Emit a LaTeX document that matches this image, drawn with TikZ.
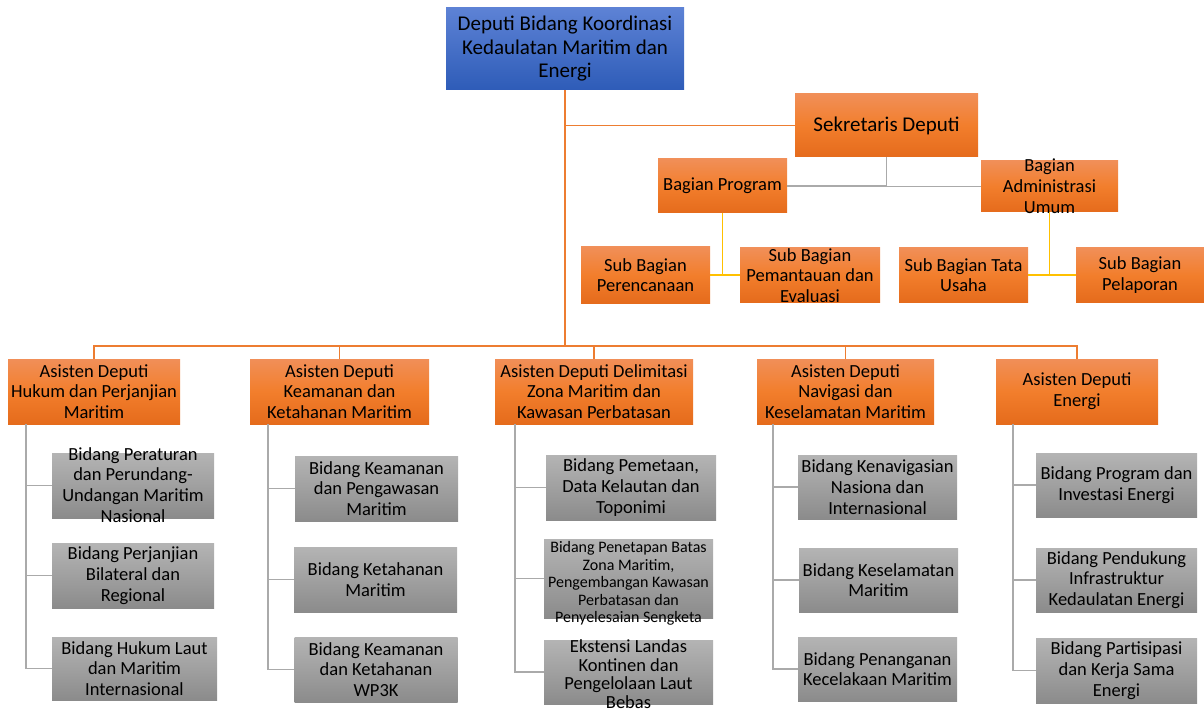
\documentclass[tikz,border=0pt]{standalone}
\usepackage{fontspec}
\setmainfont{Carlito}
\usepackage{tikz}
\usetikzlibrary{calc}
\definecolor{blTop}{RGB}{93,130,213}
\definecolor{blBot}{RGB}{46,92,184}
\definecolor{orTop}{RGB}{241,143,88}
\definecolor{orMid}{RGB}{242,126,44}
\definecolor{orBot}{RGB}{229,107,28}
\definecolor{grTop}{RGB}{180,180,180}
\definecolor{grMid}{RGB}{160,160,160}
\definecolor{grBot}{RGB}{139,139,139}
\definecolor{lnOr}{RGB}{237,125,49}
\definecolor{lnGr}{RGB}{170,170,170}
\definecolor{lnYe}{RGB}{255,192,0}
\newcommand{\ovr}[2][-6pt]{\smash{\raisebox{#1}{\begin{tabular}{@{}c@{}}#2\end{tabular}}}}
\tikzstyle{base}   = [rectangle, inner sep=0pt, align=center, text=black]
\tikzstyle{deputi} = [base, top color=blTop, bottom color=blBot, font=\fontsize{21}{23.5}\selectfont]
\tikzstyle{unit}   = [base, top color=orTop, bottom color=orBot, middle color=orMid, font=\fontsize{18.5}{20.7}\selectfont]
\tikzstyle{bidang} = [base, top color=grTop, bottom color=grBot, middle color=grMid, minimum width=162, minimum height=65, font=\fontsize{18.5}{20.7}\selectfont]
\tikzstyle{orline} = [draw=lnOr, line width=1.8pt]
\tikzstyle{grline} = [draw=lnGr, line width=1.8pt]
\tikzstyle{yeline} = [draw=lnYe, line width=1.8pt]
\begin{document}
\begin{tikzpicture}[x=1pt, y=-1pt]
    \useasboundingbox (0,0) rectangle (1204,711);

    \node (deputi) [deputi, minimum width=238, minimum height=82] at (565,49) {Deputi Bidang Koordinasi\\Kedaulatan Maritim dan\\Energi};
    \node (sekdep) [unit, minimum width=183, minimum height=63, font=\fontsize{21}{23.5}\selectfont] at (886.5,125.5) {Sekretaris Deputi};
    \node (bprog)  [unit, minimum width=129, minimum height=54] at (722.5,186) {Bagian Program};
    \node (badm)   [unit, minimum width=137, minimum height=51] at (1049.5,186.5) {\ovr{Bagian\\Administrasi\\Umum}};
    \node (sbren)  [unit, minimum width=129, minimum height=56] at (645.5,275) {Sub Bagian\\Perencanaan};
    \node (sbpem)  [unit, minimum width=140, minimum height=54] at (810,275) {\ovr[-7pt]{Sub Bagian\\Pemantauan dan\\Evaluasi}};
    \node (sbtu)   [unit, minimum width=129, minimum height=54] at (963.5,275) {Sub Bagian Tata\\Usaha};
    \node (sblap)  [unit, minimum width=128, minimum height=54] at (1140,275) {Sub Bagian\\Pelaporan};

    % asisten deputi
    \node (as1) [unit, minimum width=172, minimum height=65] at (94,391.5)   {Asisten Deputi\\Hukum dan Perjanjian\\Maritim};
    \node (as2) [unit, minimum width=179, minimum height=65] at (339.5,391.5) {Asisten Deputi\\Keamanan dan\\Ketahanan Maritim};
    \node (as3) [unit, minimum width=198, minimum height=65] at (594,391.5)  {Asisten Deputi Delimitasi\\Zona Maritim dan\\Kawasan Perbatasan};
    \node (as4) [unit, minimum width=177, minimum height=65] at (845.5,391.5) {Asisten Deputi\\Navigasi dan\\Keselamatan Maritim};
    \node (as5) [unit, minimum width=162, minimum height=65] at (1077,391.5) {Asisten Deputi\\Energi};

    % bidang
    \node (bd11) [bidang] at (133,485.5) {\ovr{Bidang Peraturan\\dan Perundang-\\Undangan Maritim\\Nasional}};
    \node (bd12) [bidang] at (133,575.5) {Bidang Perjanjian\\Bilateral dan\\Regional};
    \node (bd13) [bidang, minimum width=165, minimum height=63] at (134.5,668.5) {Bidang Hukum Laut\\dan Maritim\\Internasional};

    \node (bd21) [bidang, minimum width=163] at (376.5,488.5) {Bidang Keamanan\\dan Pengawasan\\Maritim};
    \node (bd22) [bidang, minimum width=163] at (375.5,579.5) {Bidang Ketahanan\\Maritim};
    \node (bd23) [bidang, minimum width=163] at (376,669.5)   {Bidang Keamanan\\dan Ketahanan\\WP3K};

    \node (bd31) [bidang, minimum width=170] at (631,487.5) {Bidang Pemetaan,\\Data Kelautan dan\\Toponimi};
    \node (bd32) [bidang, minimum width=169, minimum height=79, font=\fontsize{16}{17.5}\selectfont] at (628.5,578.5) {\ovr[-10pt]{Bidang Penetapan Batas\\Zona Maritim,\\Pengembangan Kawasan\\Perbatasan dan\\Penyelesaian Sengketa}};
    \node (bd33) [bidang, minimum width=169, minimum height=64, font=\fontsize{18.5}{18.6}\selectfont] at (628.5,672) {\ovr[-9pt]{Ekstensi Landas\\Kontinen dan\\Pengelolaan Laut\\Bebas}};

    \node (bd41) [bidang, minimum width=159, minimum height=64] at (877.5,487) {Bidang Kenavigasian\\Nasiona dan\\Internasional};
    \node (bd42) [bidang, minimum width=159, minimum height=64] at (878.5,580) {Bidang Keselamatan\\Maritim};
    \node (bd43) [bidang, minimum width=159, minimum height=64] at (877.5,669) {Bidang Penanganan\\Kecelakaan Maritim};

    \node (bd51) [bidang, minimum width=161, minimum height=64] at (1116.5,485)   {Bidang Program dan\\Investasi Energi};
    \node (bd52) [bidang, minimum width=161, minimum height=64] at (1116.5,580)   {Bidang Pendukung\\Infrastruktur\\Kedaulatan Energi};
    \node (bd53) [bidang, minimum width=161, minimum height=65] at (1116.5,670.5) {Bidang Partisipasi\\dan Kerja Sama\\Energi};

    % lines
    \coordinate (bus) at (565,346);
    \draw [orline] (deputi) -- (bus);
    \draw [orline] (deputi.south |- sekdep) -- (sekdep.west);
    \foreach \a in {as1,as2,as3,as4,as5}
      \draw [orline] (bus) -| (\a.north);

    \draw [grline] (sekdep.south) |- (bprog.east);
    \draw [grline] (sekdep.south) |- (badm.west);
    \draw [yeline] (bprog.south) |- (sbren.east);
    \draw [yeline] (bprog.south) |- (sbpem.west);
    \draw [yeline] (badm.south) |- (sbtu.east);
    \draw [yeline] (badm.south) |- (sblap.west);

    \foreach \a/\s in {1/18,2/18,3/20,4/16,5/17}
      \foreach \b in {1,2,3}
        \draw [grline] ([xshift=\s pt]as\a.south west) |- (bd\a\b.west);

\end{tikzpicture}
\end{document}
